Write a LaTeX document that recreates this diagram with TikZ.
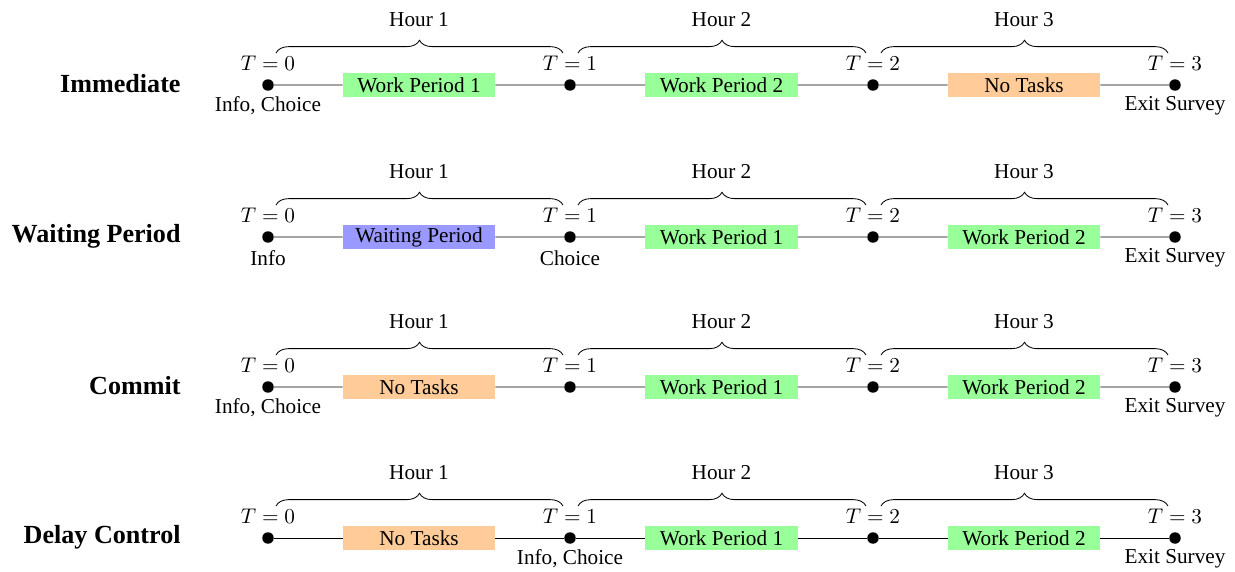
\documentclass[tikz,border=0pt]{standalone}
\usepackage[no-math]{fontspec}
\setmainfont{Liberation Serif}
\usetikzlibrary{decorations.pathreplacing,calc}
\tikzset{
  dot/.style={circle,fill=black,inner sep=0pt,minimum size=0.19cm},
  taskbox/.style={inner sep=0pt,minimum width=2.517cm,minimum height=0.397cm},
  hourbrace/.style={decorate,decoration={brace,amplitude=6pt}},
  rowlabel/.style={anchor=east,inner sep=0pt,font=\fontsize{12.3}{14}\selectfont\bfseries},
  tlabel/.style={inner sep=0pt},
  evlabel/.style={inner sep=0pt},
  axisline/.style={thin}
}
\colorlet{workc}{green!40}
\colorlet{idlec}{orange!40}
\colorlet{waitc}{blue!40}
\newcommand{\tline}[9]{%
  \node[rowlabel] (#1lab) at (181,#2-1) {#3};
  \foreach \i/\x in {0/268,1/570,2/873,3/1175}{%
    \node[dot] (#1d\i) at (\x,#2) {};
    \node[tlabel] (#1t\i) at (\x,#2-22) {$T=\i$};
  }
  \node[taskbox,fill=#5] (#1b1) at ($(#1d0)!0.5!(#1d1)$) {#4};
  \node[taskbox,fill=#7] (#1b2) at ($(#1d1)!0.5!(#1d2)$) {#6};
  \node[taskbox,fill=#9] (#1b3) at ($(#1d2)!0.5!(#1d3)$) {#8};
  \draw[axisline] (#1d0) -- (#1b1) -- (#1d1) -- (#1b2) -- (#1d2) -- (#1b3) -- (#1d3);
  \foreach \a/\b/\h in {0/1/1,1/2/2,2/3/3}{%
    \coordinate (#1bl\h) at ($(#1d\a)+(8,-32)$);
    \coordinate (#1br\h) at ($(#1d\b)+(-7,-32)$);
    \draw[hourbrace] (#1bl\h) -- (#1br\h);
    \node[tlabel] (#1h\h) at ($(#1d\a)!0.5!(#1d\b)+(0,-65)$) {Hour \h};
  }
}
\begin{document}
\begin{tikzpicture}[x=0.016556cm,y=-0.016556cm]
\useasboundingbox (0,0) rectangle (1235,571);
\tline{ra}{85}{Immediate}{Work Period 1}{workc}{Work Period 2}{workc}{No Tasks}{idlec}
\tline{rb}{237}{Waiting Period}{Waiting Period}{waitc}{Work Period 1}{workc}{Work Period 2}{workc}
\tline{rc}{387}{Commit}{No Tasks}{idlec}{Work Period 1}{workc}{Work Period 2}{workc}
\tline{rd}{538}{Delay Control}{No Tasks}{idlec}{Work Period 1}{workc}{Work Period 2}{workc}
\node[evlabel] (rae0) at ($(rad0)+(0,21)$) {Info, Choice};
\node[evlabel] (rae3) at ($(rad3)+(0,21)$) {Exit Survey};
\node[evlabel] (rbe0) at ($(rbd0)+(0,21)$) {Info};
\node[evlabel] (rbe1) at ($(rbd1)+(0,21)$) {Choice};
\node[evlabel] (rbe3) at ($(rbd3)+(0,21)$) {Exit Survey};
\node[evlabel] (rce0) at ($(rcd0)+(0,21)$) {Info, Choice};
\node[evlabel] (rce3) at ($(rcd3)+(0,21)$) {Exit Survey};
\node[evlabel] (rde1) at ($(rdd1)+(0,21)$) {Info, Choice};
\node[evlabel] (rde3) at ($(rdd3)+(0,21)$) {Exit Survey};
\end{tikzpicture}
\end{document}
